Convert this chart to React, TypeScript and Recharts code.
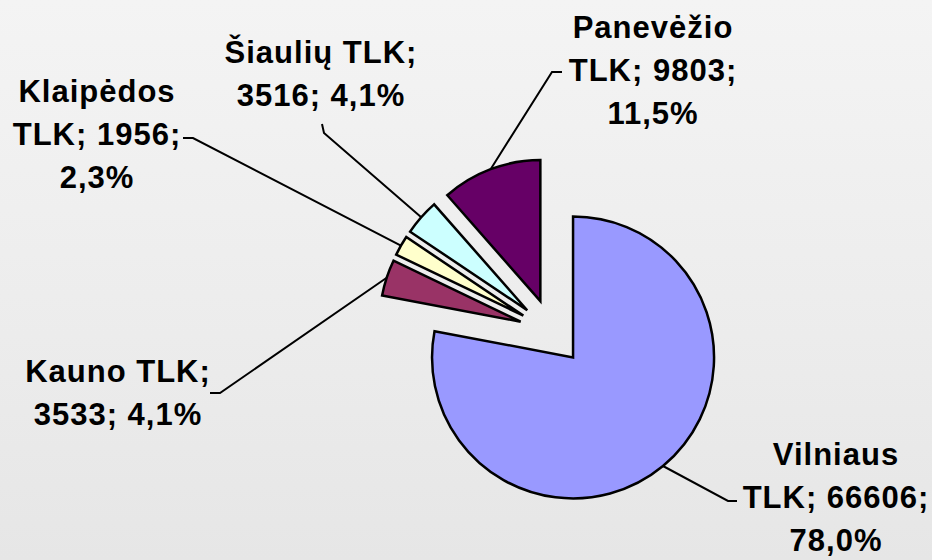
import React from 'react';
import { PieChart, Pie, Cell, Sector } from 'recharts';

// TLK regions, clockwise from 12 o'clock
const regions = ['Vilniaus TLK', 'Kauno TLK', 'Klaipėdos TLK', 'Šiaulių TLK', 'Panevėžio TLK'];
const counts = [66606, 3533, 1956, 3516, 9803];
const colors = ['#9999FF', '#993366', '#FFFFCC', '#CCFFFF', '#660066'];

// where each label sits: centre x, first baseline, words per line, leader elbow
const labelLayout = [
  { x: 836, y: 465, breaks: [1, 3], elbow: [728, 501], end: [737, 501] },
  { x: 118, y: 382, breaks: [2], elbow: [220, 393], end: [210, 393] },
  { x: 97, y: 102, breaks: [1, 3], elbow: [193, 138], end: [183, 138] },
  { x: 321, y: 63, breaks: [2], elbow: [324, 133], end: [322, 124] },
  { x: 653, y: 38, breaks: [1, 3], elbow: [552, 72], end: [562, 72] },
];

const EXPLODE = 33;
const RADIUS = 141;
const LINE_H = 43;
const RAD = Math.PI / 180;

const data = regions.map((name, i) => ({ name, value: counts[i] }));

function shift(midAngle: number) {
  return [EXPLODE * Math.cos(-midAngle * RAD), EXPLODE * Math.sin(-midAngle * RAD)];
}

function ExplodedSector(props: any) {
  const [dx, dy] = shift(props.midAngle);
  return <Sector {...props} cx={props.cx + dx} cy={props.cy + dy} />;
}

function renderLabel(props: any) {
  const { cx, cy, midAngle, outerRadius, index, name, value, percent } = props;
  const lay = labelLayout[index];
  const [dx, dy] = shift(midAngle);
  const sx = cx + dx + outerRadius * Math.cos(-midAngle * RAD);
  const sy = cy + dy + outerRadius * Math.sin(-midAngle * RAD);
  const pct = (percent * 100).toFixed(1).replace('.', ',') + '%';
  const words = `${name}; ${value}; ${pct}`.split(' ');
  const cuts = [0, ...lay.breaks, words.length];
  const lines: string[] = [];
  for (let i = 0; i < cuts.length - 1; i++) lines.push(words.slice(cuts[i], cuts[i + 1]).join(' '));
  return (
    <g key={`lbl-${index}`}>
      <polyline
        points={`${sx},${sy} ${lay.elbow[0]},${lay.elbow[1]} ${lay.end[0]},${lay.end[1]}`}
        fill="none"
        stroke="#000"
        strokeWidth={2}
      />
      <text
        x={lay.x}
        y={lay.y}
        textAnchor="middle"
        fill="#000"
        style={{ fontFamily: '"Liberation Sans", Arial, sans-serif', fontWeight: 700, fontSize: 31, letterSpacing: 1 }}
      >
        {lines.map((ln, i) => (
          <tspan key={i} x={lay.x} y={lay.y + i * LINE_H}>
            {ln}
          </tspan>
        ))}
      </text>
    </g>
  );
}

export default function App() {
  return (
    <div
      style={{
        position: 'absolute',
        left: 0,
        top: 0,
        width: 932,
        height: 560,
        background: 'linear-gradient(180deg, #f4f4f4 0%, #ececec 60%, #e6e6e6 100%)',
      }}
    >
      <PieChart width={932} height={560} margin={{ top: 0, right: 0, bottom: 0, left: 0 }}>
        <Pie
          data={data}
          dataKey="value"
          nameKey="name"
          cx={552}
          cy={332}
          outerRadius={RADIUS}
          startAngle={90}
          endAngle={-270}
          stroke="#000"
          strokeWidth={2.5}
          shape={ExplodedSector}
          label={renderLabel}
          labelLine={false}
          isAnimationActive={false}
        >
          {data.map((d, i) => (
            <Cell key={d.name} fill={colors[i]} />
          ))}
        </Pie>
      </PieChart>
    </div>
  );
}
